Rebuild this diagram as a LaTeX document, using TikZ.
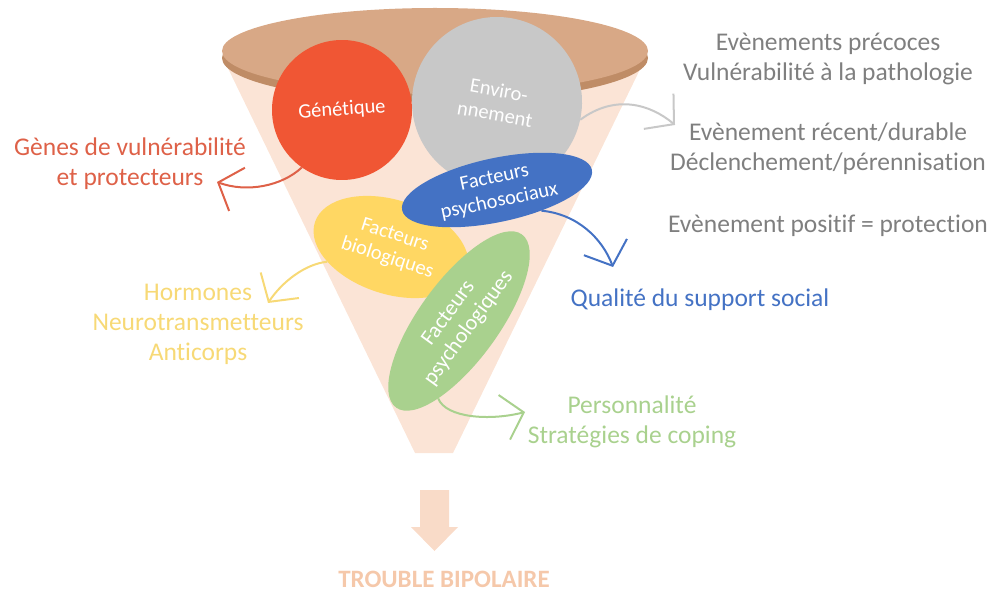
\documentclass[tikz,border=0pt]{standalone}
\usepackage{fontspec}
\setmainfont[Ligatures={NoCommon,NoContextual,NoRare}]{Carlito}
\usetikzlibrary{shapes.geometric,arrows.meta}
\definecolor{cone}{HTML}{FBE4D6}
\definecolor{tanf}{HTML}{D8A886}
\definecolor{tanrim}{HTML}{BF8C66}
\definecolor{gred}{HTML}{F05634}
\definecolor{egray}{HTML}{C8C8C8}
\definecolor{pblue}{HTML}{4472C4}
\definecolor{byellow}{HTML}{FFD763}
\definecolor{pgreen}{HTML}{A9D18E}
\definecolor{txtred}{HTML}{DE6148}
\definecolor{txtyellow}{HTML}{F7D976}
\definecolor{txtgray}{HTML}{7F7F7F}
\definecolor{peach}{HTML}{F9DBC8}
\definecolor{titlec}{HTML}{F5C8AA}
\begin{document}
\begin{tikzpicture}[x=1pt,y=-1pt,
  inner/.style={text=white, align=center, inner sep=0pt, font=\fontsize{20.5}{24}\selectfont},
  lbl/.style={align=center, font=\fontsize{25.5}{30}\selectfont},
  arr/.style={line width=2pt, -{Straight Barb[length=20pt,width=46pt]}}]
\useasboundingbox (0,0) rectangle (995,593);
% funnel
\fill[cone] (223,58) -- (415,453) -- (453,453) -- (647,55) -- cycle;
\fill[tanrim] (435,58) ellipse [x radius=213, y radius=44];
\fill[tanf] (435,51) ellipse [x radius=213, y radius=43];
% factors
\node[circle, fill=gred, minimum size=140pt, inner, rotate=4] (gen) at (342,110) {Génétique};
\node[circle, fill=egray, minimum size=170pt, inner, rotate=-10] (env) at (497,102) {Enviro-\\nnement};
\node[ellipse, fill=byellow, minimum width=160pt, minimum height=94pt, inner, rotate=-18] (bio) at (391,247) {Facteurs\\biologiques};
\node[ellipse, fill=pgreen, minimum width=214pt, minimum height=80pt, inner, font=\fontsize{22}{25}\selectfont, rotate=54] (psy) at (459,321) {Facteurs\\psychologiques};
\node[ellipse, fill=pblue, minimum width=194pt, minimum height=64pt, inner, rotate=12] (psoc) at (497,190) {Facteurs\\psychosociaux};
% labels
\node[lbl, text=txtred] (genes) at (130,164) {Gènes de vulnérabilité\\et protecteurs};
\node[lbl, text=txtyellow] (horm) at (198,324) {Hormones\\Neurotransmetteurs\\Anticorps};
\node[lbl, text=pblue] (qual) at (700,300) {Qualité du support social};
\node[lbl, text=pgreen] (pers) at (632,422) {Personnalité\\Stratégies de coping};
\node[lbl, text=txtgray] (ev1) at (828,59) {Evènements précoces\\Vulnérabilité à la pathologie};
\node[lbl, text=txtgray] (ev2) at (828,149) {Evènement récent/durable\\Déclenchement/pérennisation};
\node[lbl, text=txtgray] (ev3) at (828,226) {Evènement positif = protection};
\node[text=titlec, font=\fontsize{25}{28}\selectfont\bfseries] (tb) at (444,579) {TROUBLE BIPOLAIRE};
% arrow ends
\coordinate (tred) at (217,182);
\coordinate (tyel) at (268,303);
\coordinate (tblu) at (613,267);
\coordinate (tgre) at (525,412);
\coordinate (tgra) at (675,125);
% connectors
\draw[arr, draw=txtred] (gen.231) .. controls (282,186) and (247,193) .. (tred);
\draw[arr, draw=txtyellow] (bio.211) .. controls (305,264) and (282,282) .. (tyel);
\draw[arr, draw=pblue] (psoc.-37) .. controls (577,214) and (602,238) .. (tblu);
\draw[arr, draw=pgreen] (psy.201) .. controls (446,418) and (490,421) .. (tgre);
\draw[arr, draw=egray] (env.-2) .. controls (615,94) and (650,104) .. (tgra);
% big arrow
\fill[peach] (420,490) -- (449,490) -- (449,527) -- (458,527) -- (434.5,551) -- (411,527) -- (420,527) -- cycle;
\end{tikzpicture}
\end{document}
